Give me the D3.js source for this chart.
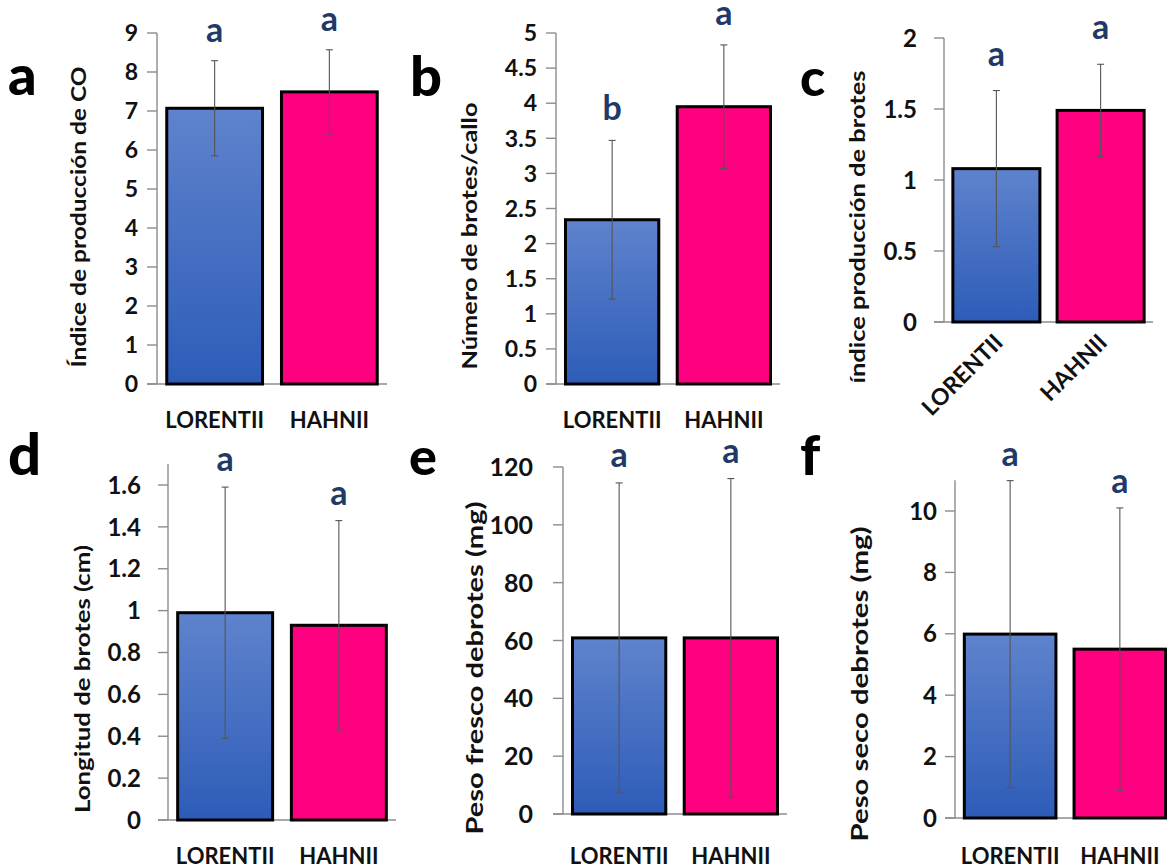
<!DOCTYPE html>
<html>
<head>
<meta charset="utf-8">
<script src="https://cdn.jsdelivr.net/npm/d3@7"></script>
<style>
  body { margin: 0; background: #fff; }
  svg { display: block; font-family: Lato, "Open Sans", sans-serif; }
</style>
</head>
<body>
<div id="chart"></div>
<script>
// data
const groups = ["LORENTII", "HAHNII"];
const panelLetters = ["a", "b", "c", "d", "e", "f"];
const yLabels = [
  "Índice de producción de CO",
  "Número de brotes/callo",
  "índice producción de brotes",
  "Longitud de brotes (cm)",
  "Peso fresco debrotes (mg)",
  "Peso seco debrotes (mg)"
];
const means = [
  [7.07, 7.49],
  [2.34, 3.95],
  [1.08, 1.49],
  [0.99, 0.93],
  [60.9, 60.9],
  [5.99, 5.50]
];
const sds = [
  [1.22, 1.08],
  [1.13, 0.88],
  [0.55, 0.325],
  [0.60, 0.50],
  [53.6, 55.1],
  [5.0, 4.6]
];
const sigLetters = [
  ["a", "a"],
  ["b", "a"],
  ["a", "a"],
  ["a", "a"],
  ["a", "a"],
  ["a", "a"]
];
const yMax = [9, 5, 2, 1.7, 120, 11];
const tickStep = [1, 0.5, 0.5, 0.2, 20, 2];
const lastTick = [9, 5, 2, 1.6, 120, 10];

// layout of each panel (pixels)
const frames = [
  {x0: 157, x1: 387, yTop: 33, yBot: 384, ySpanTo: 9, lblOff: 19, fs: 23, yl: {x: 86, y: 217, len: 301, fs: 20}, letter: {x: 8, y: 95, fs: 56}, xlY: 428, sigOff: 19},
  {x0: 556, x1: 780, yTop: 33, yBot: 384, ySpanTo: 5, lblOff: 19, fs: 23, yl: {x: 477, y: 236, len: 267, fs: 20}, letter: {x: 410, y: 96, fs: 56}, xlY: 428, sigOff: 20},
  {x0: 944, x1: 1153, yTop: 38, yBot: 322, ySpanTo: 2, lblOff: 27, fs: 24, yl: {x: 865, y: 227, len: 313, fs: 20}, letter: {x: 800, y: 96, fs: 52}, xlY: null, sigOff: 25},
  {x0: 168, x1: 396, yTop: 485, yBot: 820, ySpanTo: 1.6, lblOff: 27, fs: 24, yl: {x: 90, y: 679, len: 268, fs: 20}, letter: {x: 8, y: 475, fs: 58}, xlY: 864, sigOff: 16},
  {x0: 563, x1: 787, yTop: 467, yBot: 814, ySpanTo: 120, lblOff: 30, fs: 25, yl: {x: 483, y: 668, len: 333, fs: 23}, letter: {x: 409, y: 475, fs: 52}, xlY: 864, sigOff: 16},
  {x0: 955, x1: 1175, yTop: 511, yBot: 818, ySpanTo: 10, lblOff: 18, fs: 24, yl: {x: 868, y: 684, len: 315, fs: 23}, letter: {x: 800, y: 475, fs: 56}, xlY: 864, sigOff: 15}
];

const width = 1167, height = 867;
const axisGray = "#8c8c8c";
const sigColor = "#1f3a68";

const svg = d3.select("#chart").append("svg")
  .attr("width", width)
  .attr("height", height);

// blue bar gradient
const grad = svg.append("defs").append("linearGradient")
  .attr("id", "blueGrad")
  .attr("x1", 0).attr("y1", 0).attr("x2", 0).attr("y2", 1);
grad.append("stop").attr("offset", "0%").attr("stop-color", "#5f83cd");
grad.append("stop").attr("offset", "100%").attr("stop-color", "#2d5cb8");

const fills = ["url(#blueGrad)", "#ff0080"];

frames.forEach((f, i) => {
  const g = svg.append("g");

  const y = d3.scaleLinear()
    .domain([0, f.ySpanTo])
    .range([f.yBot, f.yTop]);

  const x = d3.scaleBand()
    .domain(groups)
    .range([f.x0, f.x1])
    .paddingInner(0.165)
    .paddingOuter(0.085);

  // y axis line and ticks
  const ticks = d3.range(0, lastTick[i] + 1e-9, tickStep[i]);
  g.append("line")
    .attr("x1", f.x0).attr("x2", f.x0)
    .attr("y1", y(0)).attr("y2", y(yMax[i]))
    .attr("stroke", axisGray).attr("stroke-width", 1.4);

  g.selectAll(".tick")
    .data(ticks)
    .join("line")
    .attr("x1", f.x0 - 10).attr("x2", f.x0)
    .attr("y1", d => y(d)).attr("y2", d => y(d))
    .attr("stroke", axisGray).attr("stroke-width", 1.4);

  const fmt = d3.format("~f");
  g.selectAll(".tlabel")
    .data(ticks)
    .join("text")
    .attr("x", f.x0 - f.lblOff)
    .attr("y", d => y(d))
    .attr("dy", "0.36em")
    .attr("text-anchor", "end")
    .attr("font-size", f.fs)
    .attr("font-weight", "bold")
    .attr("fill", "#111")
    .text(d => fmt(+d.toFixed(2)));

  // x baseline
  g.append("line")
    .attr("x1", f.x0 - 10).attr("x2", f.x1)
    .attr("y1", y(0)).attr("y2", y(0))
    .attr("stroke", axisGray).attr("stroke-width", 1.4);

  // bars
  g.selectAll(".bar")
    .data(groups)
    .join("rect")
    .attr("x", d => x(d))
    .attr("width", x.bandwidth())
    .attr("y", (d, j) => y(means[i][j]))
    .attr("height", (d, j) => y(0) - y(means[i][j]))
    .attr("fill", (d, j) => fills[j])
    .attr("stroke", "#000")
    .attr("stroke-width", 3);

  // error bars
  groups.forEach((grp, j) => {
    const cx = x(grp) + x.bandwidth() / 2;
    const hi = y(means[i][j] + sds[i][j]);
    const lo = y(means[i][j] - sds[i][j]);
    g.append("line")
      .attr("x1", cx).attr("x2", cx).attr("y1", hi).attr("y2", lo)
      .attr("stroke", "#555").attr("stroke-width", 1.1);
    [hi, lo].forEach(yy => {
      g.append("line")
        .attr("x1", cx - 3.5).attr("x2", cx + 3.5).attr("y1", yy).attr("y2", yy)
        .attr("stroke", "#555").attr("stroke-width", 1.1);
    });
    // significance letter
    g.append("text")
      .attr("x", cx)
      .attr("y", hi - f.sigOff)
      .attr("text-anchor", "middle")
      .attr("font-size", 34)
      .attr("font-weight", "bold")
      .attr("fill", sigColor)
      .text(sigLetters[i][j]);

    // category labels
    if (f.xlY !== null) {
      g.append("text")
        .attr("x", cx)
        .attr("y", f.xlY)
        .attr("text-anchor", "middle")
        .attr("font-size", 22)
        .attr("font-weight", "bold")
        .attr("fill", "#111")
        .text(grp);
    } else {
      g.append("text")
        .attr("transform", `translate(${cx + 8},${y(0) + 22}) rotate(-45)`)
        .attr("text-anchor", "end")
        .attr("font-size", 23)
        .attr("font-weight", "bold")
        .attr("fill", "#111")
        .text(grp);
    }
  });

  // y axis title
  g.append("text")
    .attr("transform", `translate(${f.yl.x},${f.yl.y}) rotate(-90)`)
    .attr("text-anchor", "middle")
    .attr("font-size", f.yl.fs)
    .attr("font-weight", "bold")
    .attr("fill", "#111")
    .attr("textLength", f.yl.len)
    .attr("lengthAdjust", "spacingAndGlyphs")
    .text(yLabels[i]);

  // panel letter
  g.append("text")
    .attr("x", f.letter.x)
    .attr("y", f.letter.y)
    .attr("font-size", f.letter.fs)
    .attr("font-weight", "900")
    .attr("fill", "#000")
    .text(panelLetters[i]);
});
</script>
</body>
</html>
